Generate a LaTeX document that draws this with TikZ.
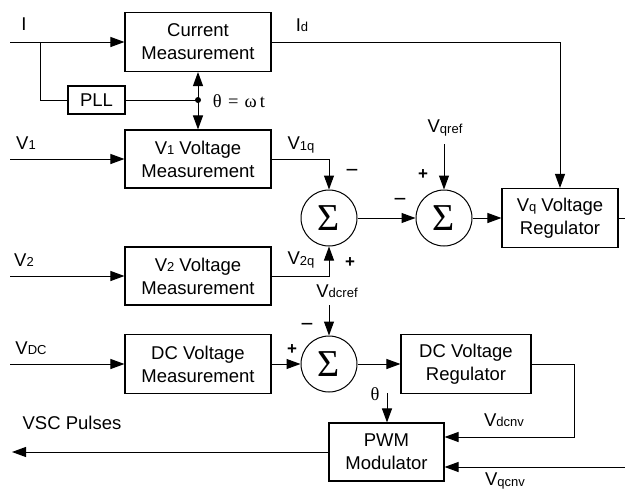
\documentclass[tikz,border=0pt]{standalone}
\usepackage{fontspec}
\setmainfont{Liberation Sans}
\newfontfamily\serifgr{Liberation Serif}
\usetikzlibrary{arrows.meta}
\newcommand\low[1]{\raisebox{-0.5pt}{\fontsize{13}{13}\selectfont #1}}
\tikzset{blk/.style={draw,line width=1.1pt,align=center,inner sep=0pt,font=\fontsize{18.5}{23}\selectfont},
  sumc/.style={circle,draw,line width=1pt,minimum size=56pt,inner sep=0pt,font=\serifgr\fontsize{38}{38}\selectfont},
  arrow/.style={-{Triangle[length=14pt,width=10pt]},line width=1pt},
  lbl/.style={inner sep=0pt,font=\fontsize{18.5}{23}\selectfont},
  sgnp/.style={inner sep=0pt,font=\bfseries\fontsize{17}{17}\selectfont},
  sgnm/.style={inner sep=0pt,font=\fontsize{22}{22}\selectfont}}

\begin{document}
\begin{tikzpicture}[x=1pt,y=-1pt]
  \path[use as bounding box] (0,0) rectangle (625,493);
  % blocks
  \node[blk,minimum width=146pt,minimum height=59pt] (cm) at (198,42) {Current\\Measurement};
  \node[blk,minimum width=57pt,minimum height=28pt] (pll) at (96.5,100) {PLL};
  \node[blk,minimum width=146pt,minimum height=58pt] (v1m) at (198,159) {V\low{1} Voltage\\Measurement};
  \node[blk,minimum width=146pt,minimum height=58pt] (v2m) at (198,276) {V\low{2} Voltage\\Measurement};
  \node[blk,minimum width=146pt,minimum height=59pt] (dcm) at (198,364) {DC Voltage\\Measurement};
  \node[blk,minimum width=116pt,minimum height=59pt] (vqr) at (560,218) {V\low{q} Voltage\\Regulator};
  \node[blk,minimum width=130pt,minimum height=59pt] (dcr) at (466,364) {DC Voltage\\Regulator};
  \node[blk,minimum width=115pt,minimum height=58pt] (pwm) at (386.5,452) {PWM\\Modulator};
  % summing points
  \node[sumc] (s1) at (329,218) {Σ};
  \node[sumc] (s2) at (444,218) {Σ};
  \node[sumc] (s3) at (329,364) {Σ};
  % free ends
  \coordinate (iin) at (10,42);
  \coordinate (br) at (40,42);
  \coordinate (th) at (198,100);
  \coordinate (v1in) at (10,159);
  \coordinate (v2in) at (10,276);
  \coordinate (dcin) at (10,364);
  \coordinate (qr) at (444,144);
  \coordinate (dr) at (329,305);
  \coordinate (vqo) at (625,218);
  \coordinate (dk) at (574,437);
  \coordinate (qc) at (625,467);
  \coordinate (tp) at (387,393);
  \coordinate (po) at (12,452);

  % connectors
  \draw[arrow] (iin) -- (cm.west);
  \draw[line width=1pt] (br) |- (pll.west);
  \draw[line width=1pt] (pll.east) -- (th);
  \fill (th) circle[radius=3];
  \draw[arrow] (th) -- (cm.south);
  \draw[arrow] (th) -- (v1m.north);
  \draw[arrow] (cm.east) -| (vqr.north);
  \draw[arrow] (v1in) -- (v1m.west);
  \draw[arrow] (v2in) -- (v2m.west);
  \draw[arrow] (dcin) -- (dcm.west);
  \draw[arrow] (v1m.east) -| (s1.north);
  \draw[arrow] (v2m.east) -| (s1.south);
  \draw[arrow] (s1.east) -- (s2.west);
  \draw[arrow] (qr) -- (s2.north);
  \draw[arrow] (s2.east) -- (vqr.west);
  \draw[line width=1pt] (vqr.east) -- (vqo);
  \draw[arrow] (dr) -- (s3.north);
  \draw[arrow] (dcm.east) -- (s3.west);
  \draw[arrow] (s3.east) -- (dcr.west);
  \draw[arrow] (dcr.east) -| (dk) -- (dk -| pwm.east);
  \draw[arrow] (qc) -- (qc -| pwm.east);
  \draw[arrow] (tp) -- (tp |- pwm.north);
  \draw[arrow] (pwm.west) -- (po);

  % labels
  \node[lbl] (li) at (24,24) {I};
  \node[lbl] (lid) at (302,25) {I\low{d}};
  \node[lbl,font=\serifgr\fontsize{18.5}{23}\selectfont] (lth) at (239,101) {θ\,\,=\,\,ω\,t};
  \node[lbl] (lv1) at (26,143) {V\low{1}};
  \node[lbl] (lv1q) at (301,145) {V\low{1q}};
  \node[lbl] (lvqr) at (445,128) {V\low{qref}};
  \node[lbl] (lv2) at (24,260) {V\low{2}};
  \node[lbl] (lv2q) at (301,260) {V\low{2q}};
  \node[lbl] (lvdr) at (337,291) {V\low{dcref}};
  \node[lbl] (lvdc) at (31,348) {V\low{DC}};
  \node[lbl] (lvsc) at (72,423) {VSC Pulses};
  \node[lbl,font=\serifgr\fontsize{18.5}{23}\selectfont] (lth2) at (375,394) {θ};
  \node[lbl] (lvdn) at (504,420) {V\low{dcnv}};
  \node[lbl] (lvqn) at (505,481) {V\low{qcnv}};
  % signs
  \node[sgnm] (m1) at (352,173) {−};
  \node[sgnm] (m2) at (400,202) {−};
  \node[sgnp] (p2) at (423,175) {+};
  \node[sgnp] (p1) at (350,263) {+};
  \node[sgnm] (m3) at (307,327) {−};
  \node[sgnp] (p3) at (292,350) {+};
\end{tikzpicture}
\end{document}
